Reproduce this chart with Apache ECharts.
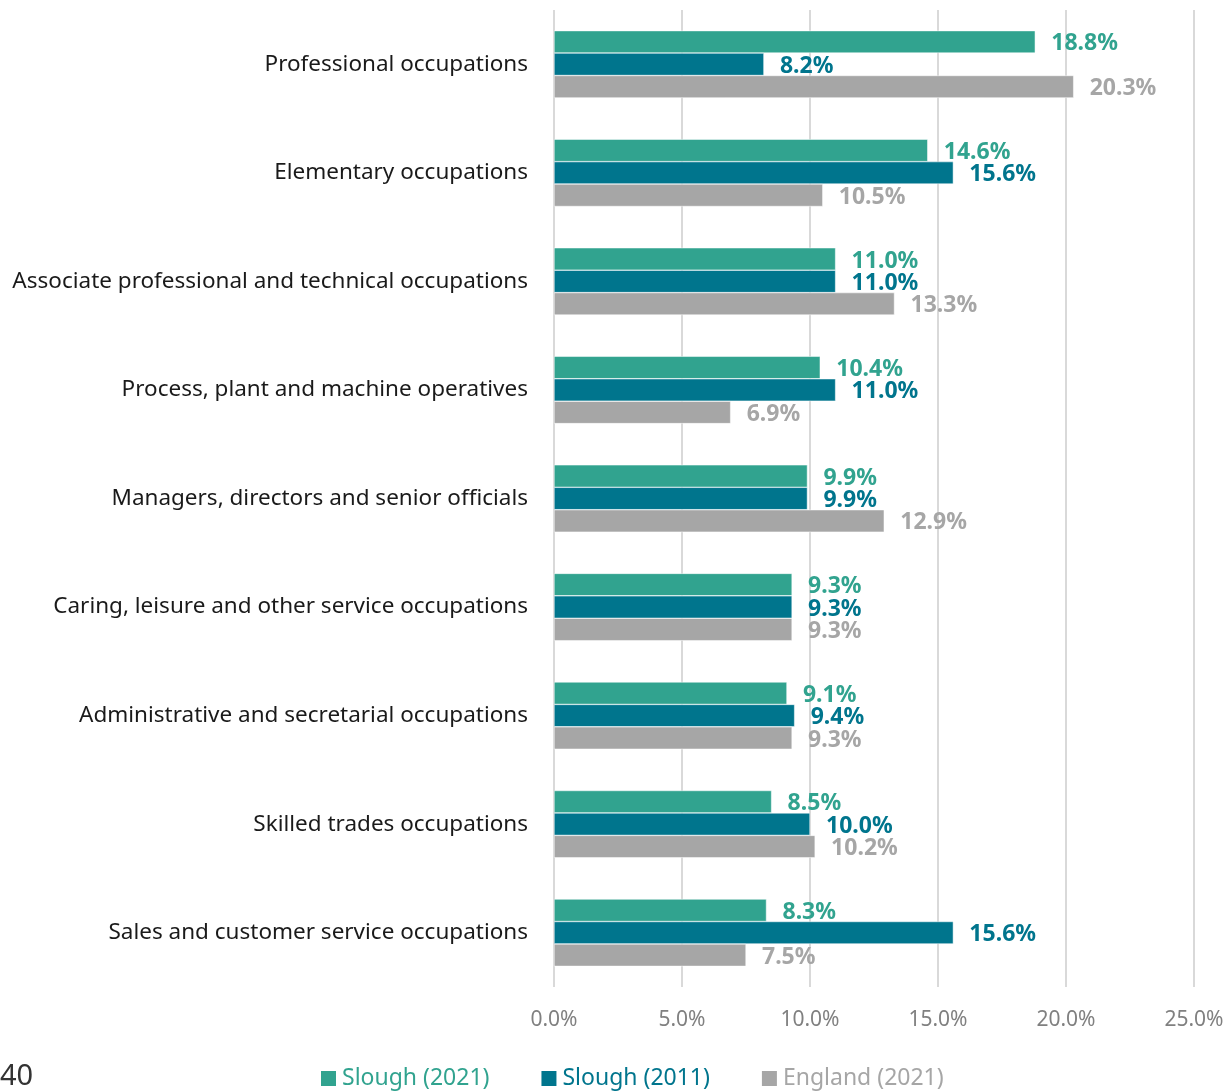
<!DOCTYPE html>
<html>
<head>
<meta charset="utf-8">
<script src="https://cdn.jsdelivr.net/npm/echarts@6/dist/echarts.min.js"></script>
<style>
  html, body { margin: 0; padding: 0; background: #fff; }
  #main { width: 1227px; height: 1091px; }
</style>
</head>
<body>
<div id="main"></div>
<script>
var categories = [
  'Professional occupations',
  'Elementary occupations',
  'Associate professional and technical occupations',
  'Process, plant and machine operatives',
  'Managers, directors and senior officials',
  'Caring, leisure and other service occupations',
  'Administrative and secretarial occupations',
  'Skilled trades occupations',
  'Sales and customer service occupations'
];
var slough2021 = [18.8, 14.6, 11.0, 10.4, 9.9, 9.3, 9.1, 8.5, 8.3];
var slough2011 = [8.2, 15.6, 11.0, 11.0, 9.9, 9.3, 9.4, 10.0, 15.6];
var england2021 = [20.3, 10.5, 13.3, 6.9, 12.9, 9.3, 9.3, 10.2, 7.5];

var FONT = '"Noto Sans", "Open Sans", sans-serif';
var colors = ['#31a38f', '#00758d', '#a6a6a6'];

function makeSeries(name, data, color) {
  return {
    name: name,
    type: 'bar',
    data: data,
    barGap: '0%',
    barCategoryGap: '38%',
    itemStyle: { color: color, borderColor: '#fff', borderWidth: 0.5 },
    label: {
      show: true,
      position: 'right',
      distance: 16,
      offset: [0, 2],
      color: color,
      fontFamily: FONT,
      fontWeight: 'bold',
      fontSize: 23,
      formatter: function (p) { return p.value.toFixed(1) + '%'; }
    }
  };
}

var myChart = echarts.init(document.getElementById('main'));
var option = {
  animation: false,
  textStyle: { fontFamily: FONT },
  grid: { left: 554, right: 33, top: 10, bottom: 104 },
  legend: {
    top: 1062,
    left: 314,
    padding: 5,
    itemGap: 50,
    itemWidth: 17,
    itemHeight: 17,
    icon: 'rect',
    textStyle: { fontFamily: FONT, fontSize: 23, padding: [0, 0, 0, 0] },
    data: [
      { name: 'Slough (2021)', textStyle: { color: colors[0] } },
      { name: 'Slough (2011)', textStyle: { color: colors[1] } },
      { name: 'England (2021)', textStyle: { color: colors[2] } }
    ]
  },
  xAxis: {
    type: 'value',
    min: 0,
    max: 25,
    interval: 5,
    axisLine: { show: false },
    axisTick: { show: false },
    splitLine: { lineStyle: { color: '#d9d9d9', width: 2 } },
    axisLabel: {
      margin: 23,
      color: '#808080',
      fontSize: 21,
      fontFamily: FONT,
      formatter: function (v) { return v.toFixed(1) + '%'; }
    }
  },
  yAxis: {
    type: 'category',
    inverse: true,
    data: categories,
    axisLine: { show: false },
    axisTick: { show: false },
    axisLabel: { margin: 26, color: '#1a1a1a', fontSize: 22.5, fontFamily: FONT }
  },
  graphic: [{
    type: 'text',
    left: 0,
    top: 1062,
    style: { text: '40', fontSize: 29, fontFamily: FONT, fill: '#333' }
  }],
  series: [
    makeSeries('Slough (2021)', slough2021, colors[0]),
    makeSeries('Slough (2011)', slough2011, colors[1]),
    makeSeries('England (2021)', england2021, colors[2])
  ]
};
myChart.setOption(option);
</script>
</body>
</html>
